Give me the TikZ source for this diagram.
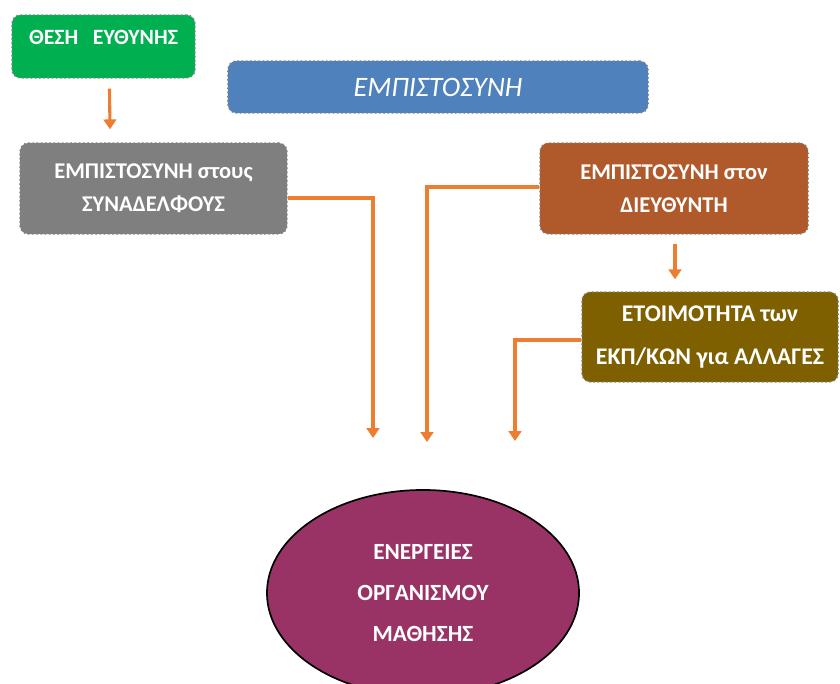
\documentclass[tikz,border=0pt]{standalone}
\usepackage{fontspec}
\setmainfont{Carlito}
\usepackage{xcolor}
\usetikzlibrary{shapes.geometric, arrows.meta, positioning, calc}

\definecolor{thesigreen}{HTML}{00B050}
\definecolor{empblue}{HTML}{4F81BD}
\definecolor{synadgrey}{HTML}{7F7F7F}
\definecolor{dieythbrown}{HTML}{B0592A}
\definecolor{etoimolive}{HTML}{7F6000}
\definecolor{energpurple}{HTML}{993366}
\definecolor{arrorange}{HTML}{ED7D31}

\begin{document}
\begin{tikzpicture}[x=0.025cm, y=-0.025cm,
  box/.style={draw=gray, dotted, line width=1pt, rounded corners=6pt,
    text=white, align=center, inner sep=0pt,
    font=\fontsize{16}{23.5}\selectfont\bfseries},
  arr/.style={draw=arrorange, line width=2.2pt, -{Triangle[width=9pt,length=7pt]}}]
\useasboundingbox[fill=white] (0,0) rectangle (840,683);
% Boxes
\node[box, fill=thesigreen, minimum width=4.575cm, text height=0.75cm, text depth=0.825cm,
  text width=4.575cm, font=\fontsize{15.5}{20}\selectfont\bfseries] (thesi) at (103.5,46.5) {ΘΕΣΗ \ ΕΥΘΥΝΗΣ};
\node[box, fill=empblue, minimum width=10.5cm, minimum height=1.3cm,
  font=\fontsize{20}{24}\selectfont\itshape] (empist) at (438,87) {ΕΜΠΙΣΤΟΣΥΝΗ};
\node[box, fill=synadgrey, minimum width=6.675cm, minimum height=2.275cm]
  (synad) at (153.5,188.5) {ΕΜΠΙΣΤΟΣΥΝΗ στους\\ΣΥΝΑΔΕΛΦΟΥΣ};
\node[box, fill=dieythbrown, minimum width=6.7cm, minimum height=2.275cm]
  (dieyth) at (674,188.5) {ΕΜΠΙΣΤΟΣΥΝΗ στον\\ΔΙΕΥΘΥΝΤΗ};
\node[box, fill=etoimolive, minimum width=6.4cm, minimum height=2.25cm,
  font=\fontsize{17}{31}\selectfont\bfseries] (etoim) at (710,337) {ΕΤΟΙΜΟΤΗΤΑ των\\ΕΚΠ/ΚΩΝ για ΑΛΛΑΓΕΣ};
% Ellipse
\node[ellipse, draw=black, line width=1.2pt, fill=energpurple, text=white, align=center,
  minimum width=7.8cm, minimum height=5.15cm, inner sep=0pt,
  font=\fontsize{16.5}{29}\selectfont\bfseries] (energ) at (423,593)
  {ΕΝΕΡΓΕΙΕΣ\\ΟΡΓΑΝΙΣΜΟΥ\\ΜΑΘΗΣΗΣ};
% Free ends of the arrows
\coordinate (inA) at (373,438);
\coordinate (inB) at (427,442);
\coordinate (inC) at (515,441);
% Arrows
\draw[arr] ([shift={(6,10)}]thesi.south) -- ([shift={(-43.5,-13)}]synad.north);
\draw[arr] ([shift={(1,9)}]dieyth.south) -- ([shift={(-35,-12)}]etoim.north);
\draw[arr] ([shift={(0,9.5)}]synad.east) -| (inA);
\draw[arr] ([shift={(0,-1.5)}]dieyth.west) -| (inB);
\draw[arr] ([shift={(0,3)}]etoim.west) -| (inC);
\end{tikzpicture}
\end{document}
